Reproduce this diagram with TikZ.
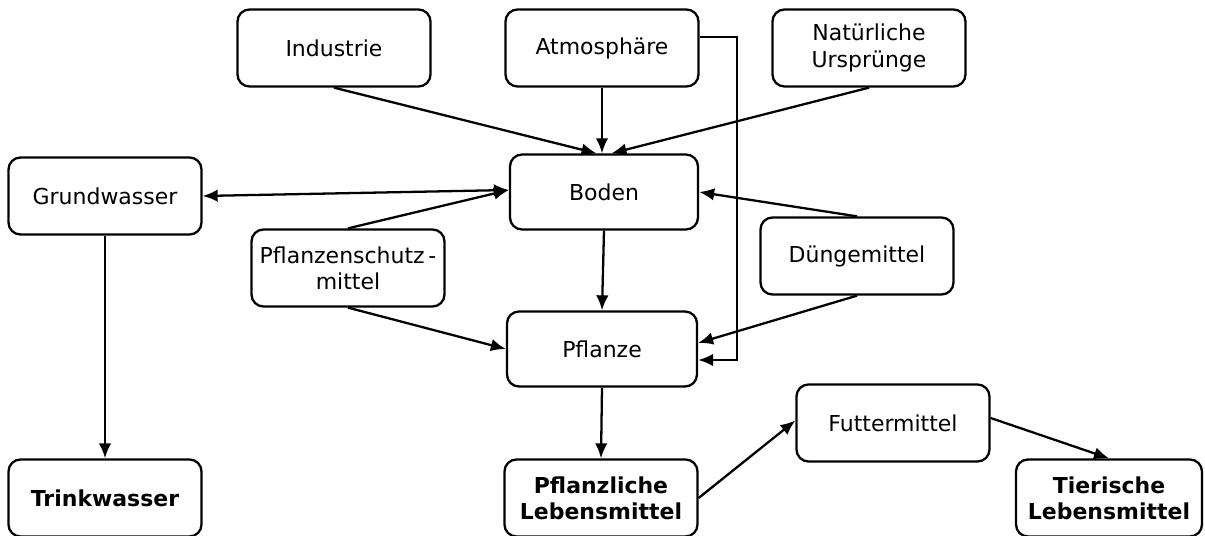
\documentclass[tikz,border=0pt]{standalone}
\usepackage{fontspec}
\setmainfont{DejaVu Sans}
\usetikzlibrary{arrows.meta}
\begin{document}
\begin{tikzpicture}
    [
    box/.style={rectangle,rounded corners=2.4mm,draw,line width=1.3pt,align=center,minimum width=3.86cm,minimum height=1.54cm,inner sep=1pt,font=\fontsize{12.5}{15}\selectfont},
    boldbox/.style={box,font=\fontsize{12.5}{15}\selectfont\bfseries},
    link/.style={line width=1.3pt,-{Latex[length=3mm,width=2.5mm]}}
    ]
    \useasboundingbox (0,0) rectangle (24.1,-10.72);
    \node (ind) at (6.68,-0.96) [box] {Industrie};
    \node (atmo) at (12.04,-0.96) [box] {Atmosphäre};
    \node (nat) at (17.38,-0.96) [box] {Natürliche\\Ursprünge};
    \node (gw) at (2.1,-3.92) [box] {Grundwasser};
    \node (boden) at (12.08,-3.84) [box,minimum width=3.76cm,minimum height=1.5cm] {Boden};
    \node (psm) at (6.96,-5.36) [box] {Pflanzenschutz\,-\\mittel};
    \node (dm) at (17.14,-5.12) [box] {Düngemittel};
    \node (pfl) at (12.04,-6.98) [box,minimum width=3.8cm,minimum height=1.5cm] {Pflanze};
    \node (tw) at (2.1,-9.96) [boldbox] {Trinkwasser};
    \node (plm) at (12.02,-9.96) [boldbox] {Pflanzliche\\Lebensmittel};
    \node (fm) at (17.86,-8.46) [box] {Futtermittel};
    \node (tlm) at (22.18,-9.96) [boldbox,minimum width=3.72cm] {Tierische\\Lebensmittel};
    \draw [link] (ind.south) to ([xshift=-1.5mm]boden.north);
    \draw [link] (atmo.south) to (atmo.south |- boden.north);
    \draw [link] (nat.south) to ([xshift=1.5mm]boden.north);
    \draw [link,{Latex[length=3mm,width=2.5mm]}-{Latex[length=3mm,width=2.5mm]}] (gw.east) to ([yshift=0.4mm]boden.west);
    \draw [link] (psm.north) to ([yshift=0.4mm]boden.west);
    \draw [link] (psm.south) to (pfl.west);
    \draw [link] (boden.south) to (pfl.north);
    \draw [link] (dm.north) to (boden.east);
    \draw [link] (dm.south) to ([yshift=1.2mm]pfl.east);
    \draw [link] ([yshift=2.2mm]atmo.east) -- ++(0.74,0) |- ([yshift=-2.2mm]pfl.east);
    \draw [link] (gw.south) to (tw.north);
    \draw [link] (pfl.south) to (plm.north);
    \draw [link] (plm.east) to ([yshift=0.5mm]fm.west);
    \draw [link] ([yshift=1mm]fm.east) to (tlm.north);
  \end{tikzpicture}
\end{document}
